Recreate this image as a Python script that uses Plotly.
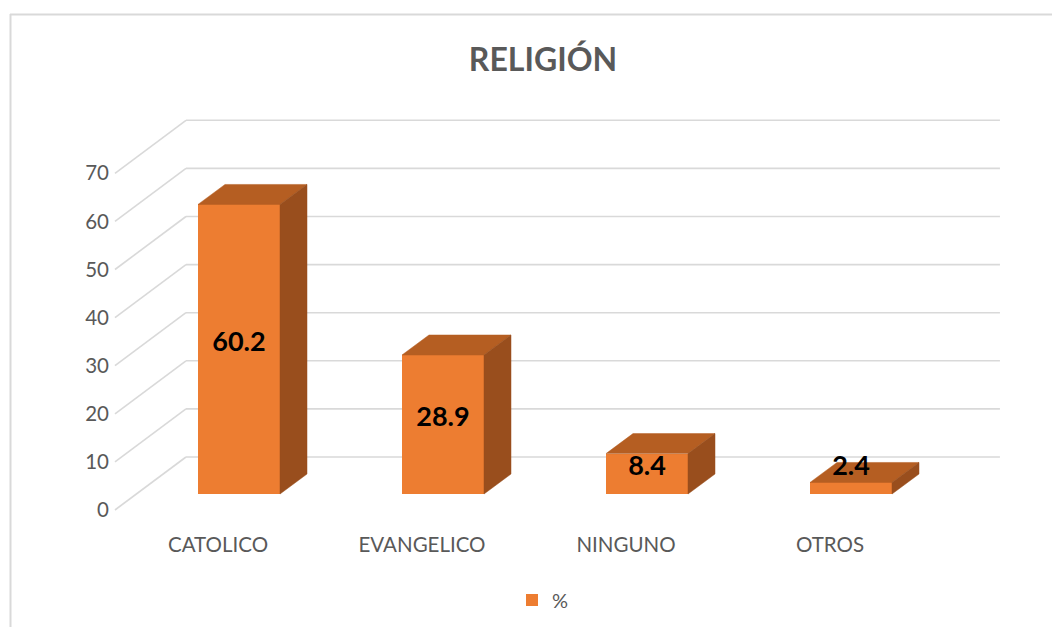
import plotly.graph_objects as go

# ---- data ----
categories = ["CATOLICO", "EVANGELICO", "NINGUNO", "OTROS"]
values = [60.2, 28.9, 8.4, 2.4]
value_labels = ["60.2", "28.9", "8.4", "2.4"]
y_ticks = [0, 10, 20, 30, 40, 50, 60, 70]
series_name = "%"
title_text = "RELIGIÓN"

# ---- 3D projection styling (in axis units) ----
PX_X = 204.0          # px per category unit
PX_Y = 4.81           # px per value unit
bar_off_x = 21 / PX_X
bar_off_y = 16 / PX_Y
bar_dx = 27 / PX_X
bar_dy = 20 / PX_Y
wall_dx = 71 / PX_X
wall_dy = 53 / PX_Y
half_w = 41 / PX_X
grid_left = -0.505
grid_right = 3.485

FRONT = "#ED7D31"
TOP = "#B55E22"
SIDE = "#994E1D"
GRID = "#D9D9D9"
BORDER = "#D9D9D9"
FONT = "Lato, Open Sans, sans-serif"

fig = go.Figure()

xs = list(range(len(categories)))

# front faces as bars
fig.add_trace(go.Bar(x=[i + bar_off_x for i in xs], y=values, base=[bar_off_y] * len(values),
                     width=2 * half_w, marker=dict(color=FRONT, line=dict(width=0)),
                     name=series_name, showlegend=True))

# top & side faces
tx, ty, sx, sy = [], [], [], []
for i, v in zip(xs, values):
    cx = i + bar_off_x
    x0, x1 = cx - half_w, cx + half_w
    y0, y1 = bar_off_y, bar_off_y + v
    tx += [x0, x0 + bar_dx, x1 + bar_dx, x1, x0, None]
    ty += [y1, y1 + bar_dy, y1 + bar_dy, y1, y1, None]
    sx += [x1, x1 + bar_dx, x1 + bar_dx, x1, x1, None]
    sy += [y0, y0 + bar_dy, y1 + bar_dy, y1, y0, None]
fig.add_trace(go.Scatter(x=tx, y=ty, mode="lines", fill="toself", fillcolor=TOP,
                         line=dict(width=0.5, color=TOP), hoverinfo="skip", showlegend=False))
fig.add_trace(go.Scatter(x=sx, y=sy, mode="lines", fill="toself", fillcolor=SIDE,
                         line=dict(width=0.5, color=SIDE), hoverinfo="skip", showlegend=False))

# data labels
lab_y = [bar_off_y + max(v / 2 + 1.0, 5.4) for v in values]
fig.add_trace(go.Scatter(x=[i + bar_off_x for i in xs], y=lab_y, mode="text",
                         text=value_labels, textposition="middle center",
                         textfont=dict(family=FONT, size=27, color="#000000", weight="bold"),
                         hoverinfo="skip", showlegend=False))

# gridlines (left diagonal + back wall), drawn below the bars
for v in y_ticks:
    fig.add_shape(type="line", xref="x", yref="y", layer="below",
                  x0=grid_left, y0=v, x1=grid_left + wall_dx, y1=v + wall_dy,
                  line=dict(color=GRID, width=1.6))
    fig.add_shape(type="line", xref="x", yref="y", layer="below",
                  x0=grid_left + wall_dx, y0=v + wall_dy, x1=grid_right + wall_dx, y1=v + wall_dy,
                  line=dict(color=GRID, width=1.6))

OFF = 8  # page body margin
L, R, T, B = 110 - OFF, 1010 - OFF, 100 - OFF, 530 - OFF
X0, Y0 = 218 - OFF, 510 - OFF
W, H = 1060 - OFF, 627 - OFF


def px_to_paper_x(px):
    return (px - OFF - L) / (R - L)


def px_to_paper_y(py):
    return 1 - (py - OFF - T) / (B - T)


# chart-area border (top and left edges visible in the crop)
fig.add_shape(type="line", xref="paper", yref="paper", layer="below",
              x0=px_to_paper_x(10), y0=px_to_paper_y(14.5), x1=px_to_paper_x(1075), y1=px_to_paper_y(14.5),
              line=dict(color=BORDER, width=2))
fig.add_shape(type="line", xref="paper", yref="paper", layer="below",
              x0=px_to_paper_x(10.5), y0=px_to_paper_y(14), x1=px_to_paper_x(10.5), y1=px_to_paper_y(640),
              line=dict(color=BORDER, width=2))

fig.update_layout(
    width=W, height=H,
    margin=dict(l=L, r=W - R, t=T, b=H - B),
    paper_bgcolor="white", plot_bgcolor="white",
    title=dict(text=title_text, x=(543 - OFF) / W, xanchor="center", y=1 - (60 - OFF) / H, yanchor="middle",
               font=dict(family=FONT, size=32, color="#595959", weight="bold")),
    xaxis=dict(range=[(L - X0) / PX_X, (R - X0) / PX_X], tickvals=xs, ticktext=categories,
               showgrid=False, zeroline=False, showline=False, ticks="",
               tickfont=dict(family=FONT, size=20.5, color="#595959")),
    yaxis=dict(range=[(Y0 - B) / PX_Y, (Y0 - T) / PX_Y], tickvals=y_ticks,
               showgrid=False, zeroline=False, showline=False, ticks="",
               tickfont=dict(family=FONT, size=20.5, color="#595959")),
    legend=dict(orientation="h", xref="container", yref="container", x=(543 - OFF) / W, xanchor="center",
                y=1 - (600 - OFF) / H, yanchor="middle", itemwidth=30,
                font=dict(family=FONT, size=20, color="#595959")),
    bargap=0,
)

fig.write_html("out.html")
